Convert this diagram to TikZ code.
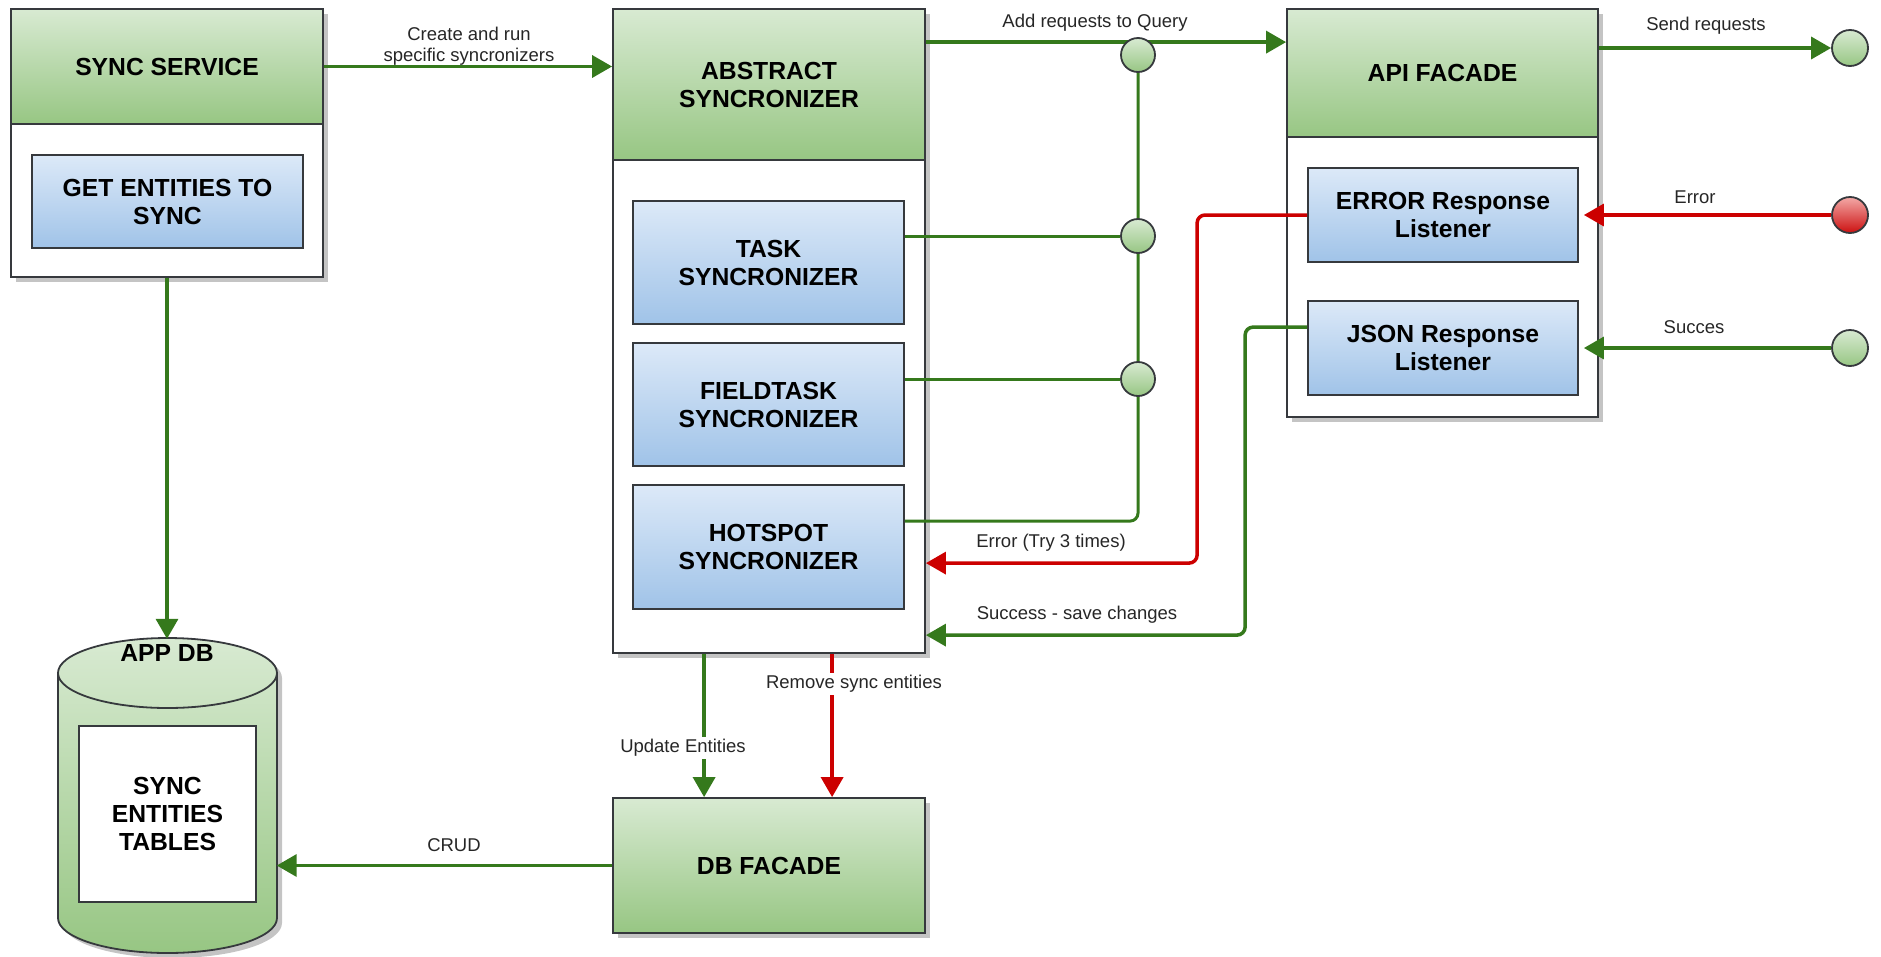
\documentclass[tikz,border=0pt]{standalone}
\usepackage{fontspec}
\setmainfont{Liberation Sans}
\usetikzlibrary{arrows.meta,shadows,calc}

\definecolor{lnGreen}{HTML}{35791C}
\definecolor{lnRed}{HTML}{CC0000}
\definecolor{strokegray}{HTML}{36393D}
\definecolor{gTop}{HTML}{D8EAD2}
\definecolor{gBot}{HTML}{97C683}
\definecolor{bTop}{HTML}{DCE9F8}
\definecolor{bBot}{HTML}{A0C3E8}
\definecolor{rTop}{HTML}{F3A9A7}
\definecolor{rBot}{HTML}{CC1010}
\definecolor{shadowgray}{HTML}{C4C4C4}

\pgfdeclarelayer{fg}
\pgfsetlayers{main,fg}

\tikzset{
  wh/.style 2 args={minimum width=#1pt, minimum height=#2pt},
  boxshadow/.style={general shadow={fill=shadowgray, shadow xshift=5pt, shadow yshift=-5pt}},
  title/.style={font=\fontsize{24.7}{28}\selectfont\bfseries, align=center, text=black},
  outerbox/.style={draw=strokegray, line width=1.8pt, fill=white, inner sep=0pt, boxshadow},
  headbox/.style={draw=strokegray, line width=1.8pt, top color=gTop, bottom color=gBot, inner sep=0pt, title},
  subbox/.style={draw=strokegray, line width=1.8pt, top color=bTop, bottom color=bBot, inner sep=0pt, title},
  circ/.style={circle, draw=strokegray, line width=1.8pt, inner sep=0pt, minimum size=34pt, top color=gTop, bottom color=gBot},
  garrow/.style={draw=lnGreen, line width=3.5pt, -{Triangle[length=20pt,width=22pt]}},
  rarrow/.style={draw=lnRed, line width=3.5pt, -{Triangle[length=20pt,width=22pt]}},
  gline/.style={draw=lnGreen, line width=3pt},
  lbl/.style={font=\fontsize{18.5}{21}\selectfont, text=black!85, inner sep=1pt, align=center},
  lblbg/.style={lbl, fill=white, inner sep=2pt},
}

\begin{document}
\begin{tikzpicture}[x=1pt, y=-1pt]
\useasboundingbox (0,0) rectangle (1881,956);

% ---- SYNC SERVICE ----
\node[outerbox, wh={312}{268}] (sync) at (167,143) {};
\node[headbox, wh={312}{115}] (synch) at (167,66.5) {SYNC SERVICE};
\node[subbox, wh={271}{93}] (getent) at (167.5,201.5) {GET ENTITIES TO\\SYNC};

% ---- ABSTRACT SYNCRONIZER ----
\node[outerbox, wh={312}{644}] (abs) at (769,331) {};
\node[headbox, wh={312}{151}] (absh) at (769,84.5) {ABSTRACT\\SYNCRONIZER};
\node[subbox, wh={271}{123}] (task) at (768.5,262.5) {TASK\\SYNCRONIZER};
\node[subbox, wh={271}{123}] (field) at (768.5,404.5) {FIELDTASK\\SYNCRONIZER};
\node[subbox, wh={271}{124}] (hot) at (768.5,547) {HOTSPOT\\SYNCRONIZER};

% ---- API FACADE ----
\node[outerbox, wh={311}{408}] (api) at (1442.5,213) {};
\node[headbox, wh={311}{128}] (apih) at (1442.5,73) {API FACADE};
\node[subbox, wh={270}{94}] (err) at (1443,215) {ERROR Response\\Listener};
\node[subbox, wh={270}{94}] (json) at (1443,348) {JSON Response\\Listener};

% ---- DB FACADE ----
\node[headbox, boxshadow, wh={312}{135}] (dbf) at (769,865.5) {DB FACADE};

% ---- APP DB cylinder ----
\node[wh={219}{314}, inner sep=0pt] (appdb) at (167,796) {};
\begin{scope}[shift={(5,5)}]
  \fill[shadowgray] (58,673) -- (58,918)
    arc[start angle=180, end angle=360, x radius=109.5pt, y radius=35pt]
    -- (277,673)
    arc[start angle=0, end angle=180, x radius=109.5pt, y radius=35pt] -- cycle;
\end{scope}
\path[draw=strokegray, line width=1.8pt, top color=gTop, bottom color=gBot]
  (58,673) -- (58,918)
  arc[start angle=180, end angle=360, x radius=109.5pt, y radius=35pt]
  -- (277,673)
  arc[start angle=0, end angle=180, x radius=109.5pt, y radius=35pt] -- cycle;
\draw[strokegray, line width=1.8pt] (58,673)
  arc[start angle=180, end angle=360, x radius=109.5pt, y radius=35pt];
\node[title] (appdblbl) at (167,653) {APP DB};
\node[draw=strokegray, line width=1.8pt, fill=white, inner sep=0pt, wh={177}{176}, title]
  (tables) at (167.5,814) {SYNC\\ENTITIES\\TABLES};

% ---- junction and endpoint circles ----
\begin{pgfonlayer}{fg}
  \node[circ] (q1) at (1138,55) {};
  \node[circ] (q2) at (1138,236) {};
  \node[circ] (q3) at (1138,379) {};
  \node[circ, minimum size=36pt] (sendc) at (1850,48) {};
  \node[circ, minimum size=36pt, top color=rTop, bottom color=rBot] (errc) at (1850,215) {};
  \node[circ, minimum size=36pt] (okc) at (1850,348) {};
\end{pgfonlayer}

% ---- connectors ----
\draw[garrow] (synch.east) -- (synch.east -| abs.west);
\node[lbl] (lcreate) at (469,46.5) {Create and run\\specific syncronizers};

\draw[garrow] (sync.south) -- (sync.south |- appdb.north);

\coordinate (addq) at ($(abs.north east)+(0,34)$);
\draw[garrow] (addq) -- (addq -| apih.west);
\node[lbl] (ladd) at (1095,23) {Add requests to Query};

\draw[gline] (q2.west -| task.east) -- (q2.west);
\draw[gline] (q3.west -| field.east) -- (q3.west);
\draw[gline, rounded corners=8pt] (q1.south) |- ($(hot.north east)+(0,37)$);

\draw[garrow] (apih.east |- sendc) -- (sendc.west);
\node[lbl] (lsend) at (1706,26) {Send requests};

\draw[rarrow, shorten >=5pt] (errc.west) -- (errc.west -| err.east);
\node[lbl] (lerr) at (1695,197) {Error};
\draw[garrow, shorten >=5pt] (okc.west) -- (okc.west -| json.east);
\node[lbl] (lok) at (1694,327) {Succes};

\draw[rarrow, rounded corners=8pt] (err.west) -- ++(-110,0) |- ($(abs.north east)+(0,555)$);
\node[lbl] (ltry) at (1051,543) {Error (Try 3 times)};
\draw[garrow, rounded corners=8pt] ($(json.north west)+(0,27)$) -- ++(-62,0) |- ($(abs.north east)+(0,627)$);
\node[lbl] (lsave) at (1077,615) {Success - save changes};

\draw[garrow] ($(abs.south west)+(92,0)$) -- ($(dbf.north west)+(92,0)$);
\node[lblbg] (lupd) at (683,748) {Update Entities};
\draw[rarrow] ($(abs.south west)+(220,0)$) -- ($(dbf.north west)+(220,0)$);
\node[lblbg] (lrem) at (854,684) {Remove sync entities};

\draw[garrow] (dbf.west) -- (dbf.west -| appdb.east);
\node[lbl] (lcrud) at (454,845) {CRUD};
\end{tikzpicture}
\end{document}
